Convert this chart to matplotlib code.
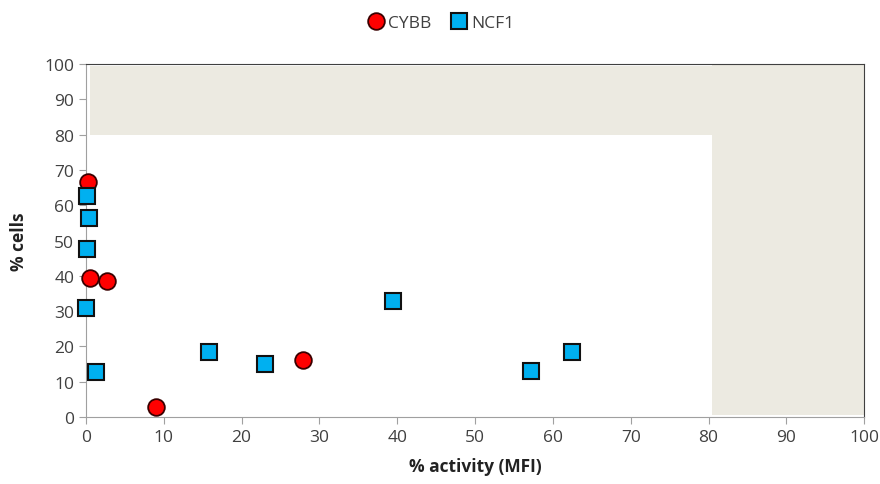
import matplotlib.pyplot as plt
from matplotlib.patches import Rectangle

# Datos: % actividad (MFI) vs % celulas
cybb_x = [0.3, 0.5, 2.7, 9.0, 27.9]
cybb_y = [66.6, 39.4, 38.5, 2.8, 16.1]

ncf1_x = [0.1, 0.4, 0.1, 0.0, 1.3, 15.8, 23.0, 39.5, 57.2, 62.5]
ncf1_y = [62.6, 56.4, 47.6, 30.9, 12.7, 18.4, 15.0, 32.9, 13.0, 18.4]

ticks = list(range(0, 101, 10))

plt.rcParams['font.family'] = ['Open Sans', 'DejaVu Sans']

fig = plt.figure(figsize=(8.8, 4.85), dpi=100)
ax = fig.add_axes([0.0977, 0.138, 0.8843, 0.728])

# Zona sombreada en forma de L
beige = '#ECEAE1'
ax.add_patch(Rectangle((0.5, 80), 99.5, 19.5, facecolor=beige, edgecolor='none', zorder=0))
ax.add_patch(Rectangle((80.5, 0.5), 19.5, 99.5, facecolor=beige, edgecolor='none', zorder=0))

ax.plot(cybb_x, cybb_y, 'o', color='#FF0000', markeredgecolor='#3A0000',
        markeredgewidth=1.3, markersize=12, label='CYBB', zorder=3, clip_on=False)
ax.plot(ncf1_x, ncf1_y, 's', color='#00B0F0', markeredgecolor='#111111',
        markeredgewidth=1.5, markersize=11.5, label='NCF1', zorder=3, clip_on=False)

ax.set_xlim(0, 100)
ax.set_ylim(0, 100)
ax.set_xticks(ticks)
ax.set_yticks(ticks)
ax.tick_params(colors='#A0A0A0', labelcolor='#404040', labelsize=12.5, length=5, direction='out')

for s in ['left', 'bottom']:
    ax.spines[s].set_color('#A0A0A0')
for s in ['top', 'right']:
    ax.spines[s].set_color('#404040')

ax.set_xlabel('% activity (MFI)', fontsize=12.5, fontweight='bold', color='#222222', labelpad=9)
ax.set_ylabel('% cells', fontsize=12.5, fontweight='bold', color='#222222', labelpad=12)

fig.legend(loc='upper center', bbox_to_anchor=(0.5, 1.0), ncol=2, frameon=False,
           fontsize=12.5, handletextpad=0.1, columnspacing=1.0, handlelength=1.2,
           labelcolor='#404040')

plt.savefig('out.png', dpi=100, facecolor='white')
plt.close()
